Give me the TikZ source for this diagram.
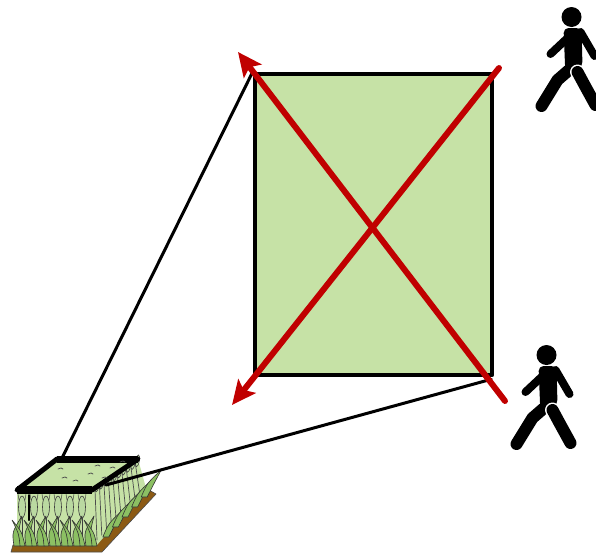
\documentclass[tikz,border=0pt]{standalone}
\usetikzlibrary{arrows.meta}

\definecolor{fieldgreen}{HTML}{C6E2A6}
\definecolor{markred}{HTML}{C00000}
\definecolor{leafgreen}{HTML}{8CC063}
\definecolor{soil}{HTML}{8C5A14}

\tikzset{
  leaf/.style={fill=leafgreen,draw=black!80,line width=0.6},
  ear/.style={fill=leafgreen!60,draw=black!75,line width=0.6},
  limb/.style={line width=#1,line cap=round},
}

\begin{document}
\begin{tikzpicture}[x=1pt,y=-1pt,line join=round,line cap=round]
  \useasboundingbox (0,0) rectangle (596,552);

  % the field, seen from above
  \node[draw,fill=fieldgreen,line width=4.5,minimum width=237,minimum height=301,inner sep=0] (field) at (373.5,224.5) {};

  % small plot with wheat
  \coordinate (plotFL) at (17,490);
  \coordinate (plotFR) at (92,490);
  \coordinate (plotBR) at (138,459);
  \coordinate (plotBL) at (57,459);
  \coordinate (plotTop) at (62,458);
  \coordinate (plotSide) at (106,485);
  % soil
  \fill[soil,draw=black!70,line width=0.6] (13,545) -- (96,545) -- (149,490) -- (156,494) -- (102,552) -- (11,552) -- cycle;
  % body of the crop
  \fill[fieldgreen] (plotFL) -- (plotFR) -- (plotBR) -- (146,488) -- (97,545) -- (17,545) -- cycle;
  % stems and ears on the side
  \foreach \t in {0,0.1,...,1.0}{
    \draw[black!70,line width=0.7] ({95+45*\t},{490-28*\t}) -- ({97+48*\t},{540-48*\t});
    \draw[ear,rotate around={-10:({97+45*\t},{486-28*\t})}] ({97+45*\t},{486-28*\t}) ellipse (1.8 and 6);
  }
  % stems and ears at the front
  \foreach \x in {22,34,46,58,70,82}{
    \draw[black!75,line width=0.8] (\x,498) -- (\x,544);
    \draw[ear] (\x,507) ellipse (3.5 and 11);
    \draw[black!70,line width=0.5] (\x-3,500) -- (\x-4,494) (\x+3,500) -- (\x+4,494);
  }
  \draw[black,line width=2] (29,495) -- (29,520);
  % leaves
  \foreach \x in {14,26,38,50,62,74,86}{
    \draw[leaf] (\x,546) .. controls (\x-2,532) .. (\x+8,516) .. controls (\x+4,532) .. (\x+7,546) -- cycle;
    \draw[leaf] (\x+6,546) .. controls (\x+5,534) .. (\x-2,520) .. controls (\x+8,532) .. (\x+11,546) -- cycle;
  }
  \foreach \t in {0.1,0.3,...,0.9}{
    \draw[leaf] ({98+48*\t},{542-50*\t}) .. controls ({104+48*\t},{528-50*\t}) .. ({118+48*\t},{515-50*\t})
      .. controls ({110+48*\t},{530-50*\t}) .. ({104+48*\t},{542-50*\t}) -- cycle;
  }
  % top of the plot
  \draw[fill=fieldgreen,line width=5] (plotFL) -- (plotFR) -- (plotBR) -- (plotBL) -- cycle;
  \draw[line width=8,line cap=butt] (plotFL) -- (plotFR);
  \draw[line width=7,line cap=butt] (plotBL) -- (plotBR);
  \foreach \p in {(58,469),(73,481),(88,474),(95,466),(110,468),(62,478),(120,462),(102,478)}
    \draw[black!70,line width=0.7] \p -- ++(3,-1) -- ++(2,1);

  % lines from the plot up to the field
  \draw[line width=3] (field.north west) -- (plotTop);
  \draw[line width=3] ([shift={(-3,2)}]field.south east) -- (plotSide);

  % red cross
  \coordinate (crossA) at (505,401);
  \coordinate (crossB) at (499,68);
  \draw[markred,line width=6,-{Stealth[length=24pt,width=22pt,inset=5pt]}] (crossA) -- (238,52);
  \draw[markred,line width=6,-{Stealth[length=24pt,width=22pt,inset=5pt]}] (crossB) -- (232,405);

  % walkers
  \foreach \hx/\hy in {571.5/17,546.5/355}{
    \begin{scope}[shift={(\hx,\hy)}]
      \fill (0,0) circle (10);
      \draw[limb=12] (1,50) -- (-14,63) -- (-30,89);
      \draw[limb=8] (-5,22) -- (-21,37);
      \draw[limb=8] (9,15) -- (23,39);
      \fill[rounded corners=5] (-8,11) -- (10,11) -- (11,50) -- (-6,60) -- cycle;
      \draw[white,limb=15] (6,55) -- (13,68) -- (24,88);
      \draw[limb=12] (6,55) -- (13,68) -- (24,88);
    \end{scope}
  }
\end{tikzpicture}
\end{document}
